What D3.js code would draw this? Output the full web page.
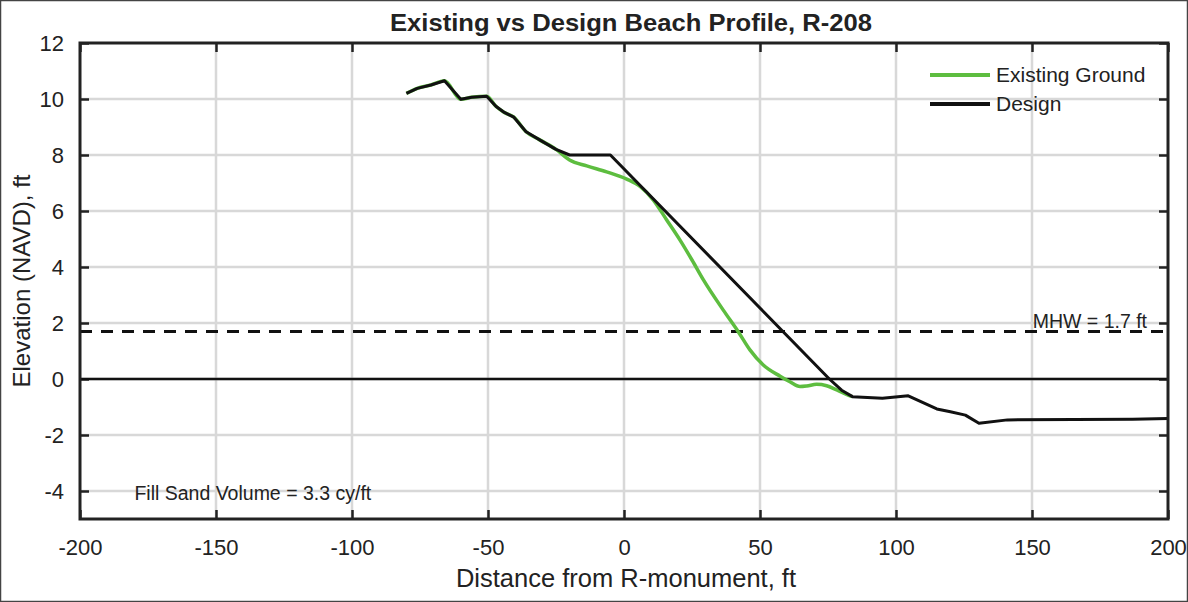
<!DOCTYPE html>
<html>
<head>
<meta charset="utf-8">
<script src="https://cdn.jsdelivr.net/npm/d3@7"></script>
<style>
  body { margin: 0; background: #fff; }
  text { font-family: "Liberation Sans", Arial, sans-serif; fill: #222; }
</style>
</head>
<body>
<svg id="chart" width="1188" height="602"></svg>
<script>
// x positions (ft from R-monument) and elevations (ft NAVD)
var designX = [-80, -76, -71, -66, -60, -56, -50.5, -47, -44, -40.5, -36, -31, -25, -20, -5, 75.5, 80, 84, 95, 104.5, 115, 120, 125.5, 130.5, 141, 187, 200]
var designY = [10.2, 10.38, 10.5, 10.65, 9.99, 10.06, 10.1, 9.73, 9.52, 9.35, 8.83, 8.54, 8.2, 8.0, 8.0, 0, -0.4, -0.63, -0.69, -0.6, -1.07, -1.17, -1.29, -1.58, -1.46, -1.44, -1.41]

var existingX = [-80, -76, -71, -66, -60, -56, -50.5, -47, -44, -40.5, -36, -31, -25, -20, -13.7, -6.4, 1, 6, 10.8, 15.7, 20.6, 25, 29.2, 36.5, 42, 46.3, 51.2, 57.4, 61, 64.7, 67.2, 70.8, 74.5, 78.2, 83, 84]
var existingY = [10.2, 10.38, 10.5, 10.65, 9.99, 10.06, 10.1, 9.73, 9.52, 9.35, 8.83, 8.54, 8.2, 7.82, 7.61, 7.4, 7.14, 6.87, 6.39, 5.68, 4.96, 4.25, 3.54, 2.46, 1.69, 1.04, 0.5, 0.1, -0.1, -0.27, -0.25, -0.19, -0.24, -0.39, -0.6, -0.63]

var xTicks = [-200, -150, -100, -50, 0, 50, 100, 150, 200]
var yTicks = [-4, -2, 0, 2, 4, 6, 8, 10, 12]
var mhw = 1.7
var seriesNames = ["Existing Ground", "Design"]
var seriesColors = ["#5dbd3f", "#111111"]

var svg = d3.select("#chart")
var margin = { top: 43, right: 20, bottom: 83, left: 80 }
var width = 1188 - margin.left - margin.right,
    height = 602 - margin.top - margin.bottom

// outer frame
svg.append("rect").attr("x", 0.5).attr("y", 0.5).attr("width", 1187).attr("height", 601)
    .attr("fill", "#fff").attr("stroke", "#444").attr("stroke-width", 1.5)

var x = d3.scaleLinear().domain([-200, 200]).range([0, width])
var y = d3.scaleLinear().domain([-5, 12]).range([height, 0])

var g = svg.append("g").attr("transform", "translate(" + margin.left + "," + margin.top + ")")

// grid
g.selectAll(".vgrid").data(xTicks.slice(1, -1)).enter().append("line")
    .attr("x1", d => x(d)).attr("x2", d => x(d)).attr("y1", 0).attr("y2", height)
    .attr("stroke", "#d8d8d8").attr("stroke-width", 2.5)
g.selectAll(".hgrid").data(yTicks.slice(0, -1)).enter().append("line")
    .attr("x1", 0).attr("x2", width).attr("y1", d => y(d)).attr("y2", d => y(d))
    .attr("stroke", "#d8d8d8").attr("stroke-width", 2.5)

// axes with inward ticks
function styleAxis(sel) {
    sel.select(".domain").remove()
    sel.selectAll(".tick line").attr("stroke", "#222").attr("stroke-width", 2.5)
    sel.selectAll(".tick text").style("font-size", "22px").attr("fill", "#333")
}
var plain = d => String(d)
g.append("g").attr("transform", "translate(0," + height + ")")
    .call(d3.axisBottom(x).tickValues(xTicks).tickSize(-9).tickPadding(20).tickFormat(plain))
    .call(styleAxis)
g.append("g")
    .call(d3.axisTop(x).tickValues(xTicks).tickSize(-9).tickFormat(""))
    .call(styleAxis)
g.append("g")
    .call(d3.axisLeft(y).tickValues(yTicks).tickSize(-9).tickPadding(16).tickFormat(plain))
    .call(styleAxis)
g.append("g").attr("transform", "translate(" + width + ",0)")
    .call(d3.axisRight(y).tickValues(yTicks).tickSize(-9).tickFormat(""))
    .call(styleAxis)

// MHW and zero line
g.append("line").attr("x1", 0).attr("x2", width).attr("y1", y(mhw)).attr("y2", y(mhw))
    .attr("stroke", "#111").attr("stroke-width", 3).attr("stroke-dasharray", "12,9")
g.append("line").attr("x1", 0).attr("x2", width).attr("y1", y(0)).attr("y2", y(0))
    .attr("stroke", "#111").attr("stroke-width", 2.5)

// profiles
var line = d3.line().x(d => x(d[0])).y(d => y(d[1]))
g.append("path").datum(d3.zip(existingX, existingY))
    .attr("d", line.curve(d3.curveMonotoneX)).attr("fill", "none")
    .attr("stroke", seriesColors[0]).attr("stroke-width", 3.5)
g.append("path").datum(d3.zip(designX, designY))
    .attr("d", line.curve(d3.curveLinear)).attr("fill", "none")
    .attr("stroke", seriesColors[1]).attr("stroke-width", 3).attr("stroke-linejoin", "round")

// box
g.append("rect").attr("width", width).attr("height", height)
    .attr("fill", "none").attr("stroke", "#222").attr("stroke-width", 3)

// annotations
g.append("text").attr("x", x(200) - 21).attr("y", y(mhw) - 3).attr("text-anchor", "end")
    .style("font-size", "19.5px").text("MHW = " + mhw + " ft")
g.append("text").attr("x", x(-180)).attr("y", y(-4) + 9)
    .style("font-size", "19.5px").text("Fill Sand Volume = 3.3 cy/ft")

// legend
var legend = g.selectAll(".legend").data(seriesNames).enter().append("g")
    .attr("transform", (d, i) => "translate(" + (930 - margin.left) + "," + (75 - margin.top + i * 29) + ")")
legend.append("line").attr("x1", 0).attr("x2", 60)
    .attr("stroke", (d, i) => seriesColors[i]).attr("stroke-width", 4)
legend.append("text").attr("x", 66).attr("dy", "0.35em").style("font-size", "21px").text(d => d)

// titles
svg.append("text").attr("x", 390).attr("y", 31)
    .attr("textLength", 482).attr("lengthAdjust", "spacingAndGlyphs")
    .style("font-size", "24px").style("font-weight", "bold").attr("fill", "#111")
    .text("Existing vs Design Beach Profile, R-208")
svg.append("text").attr("x", margin.left + width / 2 + 2).attr("y", 587).attr("text-anchor", "middle")
    .style("font-size", "25.5px").attr("fill", "#333").text("Distance from R-monument, ft")
svg.append("text").attr("transform", "translate(30," + (margin.top + height / 2) + ") rotate(-90)")
    .attr("text-anchor", "middle").style("font-size", "24px").attr("fill", "#333")
    .text("Elevation (NAVD), ft")
</script>
</body>
</html>
